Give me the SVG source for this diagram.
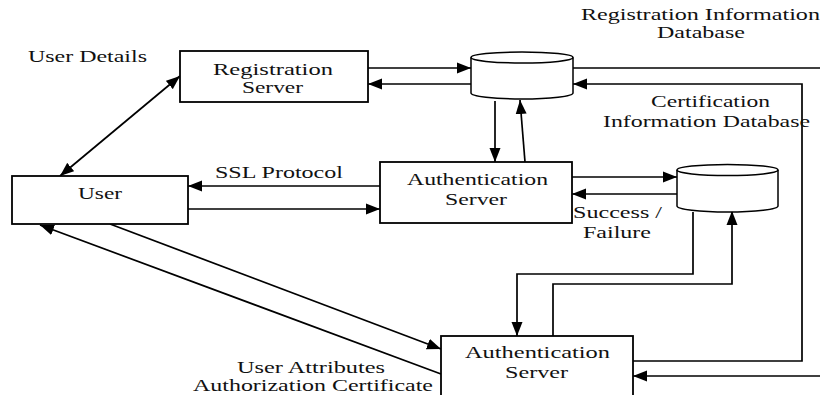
<svg xmlns="http://www.w3.org/2000/svg" width="820" height="395" viewBox="0 0 820 395">
<defs>
<marker id="ah" markerUnits="userSpaceOnUse" markerWidth="15" markerHeight="12" refX="14" refY="6" orient="auto-start-reverse">
<path d="M0,0.5 L14,6 L0,11.5 Z" fill="#000"/>
</marker>
<style>
.box{fill:#fff;stroke:#000;stroke-width:1.8}
.cyl{fill:#fff;stroke:#000;stroke-width:1.5}
.ln{fill:none;stroke:#000;stroke-width:1.7}
.ar{fill:none;stroke:#000;stroke-width:1.7;marker-end:url(#ah)}
text{font-family:"Liberation Serif","DejaVu Serif","Times New Roman",serif;font-size:17px;fill:#111}
</style>
</defs>
<rect width="820" height="395" fill="#fff"/>
<g id="connectors">
<line class="ar" x1="60" y1="176" x2="180" y2="76" style="marker-start:url(#ah)"/>
<line class="ar" x1="368" y1="68" x2="471" y2="68"/>
<line class="ar" x1="471" y1="84" x2="368" y2="84"/>
<line class="ln" x1="573" y1="68" x2="820" y2="68"/>
<path class="ar" d="M633,361 H802 V84 H573"/>
<path class="ar" d="M820,376 H633"/>
<line class="ar" x1="495" y1="101" x2="495" y2="162"/>
<line class="ar" x1="525" y1="162" x2="520" y2="100"/>
<line class="ar" x1="572" y1="177" x2="677" y2="177"/>
<line class="ar" x1="677" y1="194" x2="572" y2="194"/>
<line class="ar" x1="380" y1="186" x2="188" y2="186"/>
<line class="ar" x1="188" y1="209" x2="380" y2="209"/>
<path class="ar" d="M693,212 V274 H517 V336"/>
<path class="ar" d="M553,336 V284 H732 V211"/>
<line class="ar" x1="110" y1="224" x2="441" y2="349"/>
<line class="ar" x1="441" y1="374" x2="40" y2="225"/>
</g>
<g id="registration-server">
<rect class="box" x="180" y="51" width="188" height="51"/>
<text x="213" y="75" textLength="120" lengthAdjust="spacingAndGlyphs">Registration</text>
<text x="242" y="93" textLength="61" lengthAdjust="spacingAndGlyphs">Server</text>
</g>
<g id="user">
<rect class="box" x="12" y="176" width="176" height="48"/>
<text x="78" y="199" textLength="44" lengthAdjust="spacingAndGlyphs">User</text>
</g>
<g id="auth-server-1">
<rect class="box" x="380" y="162" width="192" height="61"/>
<text x="407" y="185" textLength="141" lengthAdjust="spacingAndGlyphs">Authentication</text>
<text x="445" y="205" textLength="62" lengthAdjust="spacingAndGlyphs">Server</text>
</g>
<g id="auth-server-2">
<rect class="box" x="441" y="336" width="192" height="70"/>
<text x="465" y="358" textLength="145" lengthAdjust="spacingAndGlyphs">Authentication</text>
<text x="505" y="378" textLength="63" lengthAdjust="spacingAndGlyphs">Server</text>
</g>
<g id="registration-db">
<path class="cyl" d="M471,57.5 V93 A51,6 0 0 0 573,93 V57.5"/>
<ellipse class="cyl" cx="522" cy="57.5" rx="51" ry="5.5"/>
<text x="581" y="20" textLength="239" lengthAdjust="spacingAndGlyphs">Registration Information</text>
<text x="657" y="38" textLength="88" lengthAdjust="spacingAndGlyphs">Database</text>
</g>
<g id="certification-db">
<path class="cyl" d="M677,170 V206 A50.5,6 0 0 0 778,206 V170"/>
<ellipse class="cyl" cx="727.5" cy="170" rx="50.5" ry="5.5"/>
<text x="651" y="107" textLength="119" lengthAdjust="spacingAndGlyphs">Certification</text>
<text x="603" y="127" textLength="207" lengthAdjust="spacingAndGlyphs">Information Database</text>
</g>
<g id="labels">
<text x="28" y="62" textLength="119" lengthAdjust="spacingAndGlyphs">User Details</text>
<text x="215" y="178" textLength="128" lengthAdjust="spacingAndGlyphs">SSL Protocol</text>
<text x="573" y="218" textLength="89" lengthAdjust="spacingAndGlyphs">Success /</text>
<text x="583" y="238" textLength="68" lengthAdjust="spacingAndGlyphs">Failure</text>
<text x="237" y="373" textLength="148" lengthAdjust="spacingAndGlyphs">User Attributes</text>
<text x="193" y="391" textLength="240" lengthAdjust="spacingAndGlyphs">Authorization Certificate</text>
</g>
</svg>
